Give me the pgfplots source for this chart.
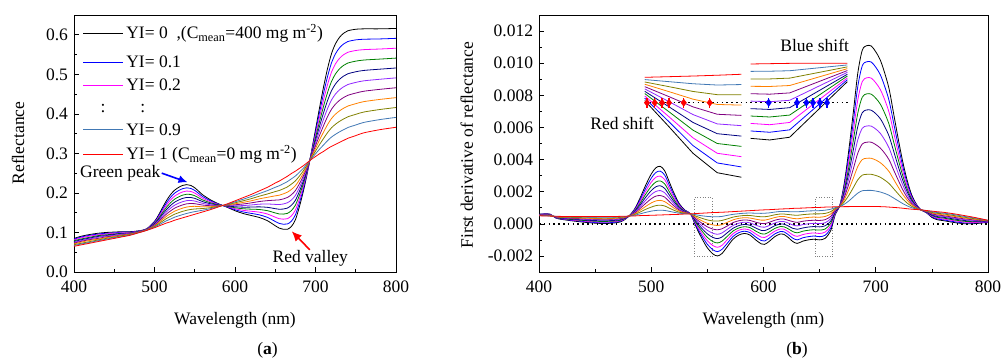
\documentclass[border=0pt]{standalone}
\usepackage{fontspec}
\setmainfont{Liberation Serif}
\usepackage{pgfplots}
\usepackage{pgfplotstable}
\pgfplotsset{compat=1.18}
\usetikzlibrary{arrows.meta}
\definecolor{cblue}{RGB}{0,0,255}
\definecolor{cmag}{RGB}{255,0,255}
\definecolor{cgreen}{RGB}{0,128,0}
\definecolor{cnavy}{RGB}{0,0,128}
\definecolor{cviolet}{RGB}{145,40,255}
\definecolor{cpurple}{RGB}{128,0,128}
\definecolor{corange}{RGB}{255,128,0}
\definecolor{colive}{RGB}{128,128,0}
\definecolor{csteel}{RGB}{65,120,180}
\definecolor{cred}{RGB}{255,0,0}
\newcommand{\fs}{\fontsize{17.5}{21}\selectfont}

\pgfplotstableread{
wl r0 r1 r2 r3 r4 r5 r6 r7 r8 r9 r10
400 0.085 0.083 0.081 0.079 0.077 0.075 0.073 0.071 0.069 0.067 0.065
410 0.091 0.089 0.087 0.084 0.082 0.080 0.078 0.076 0.073 0.071 0.069
420 0.095 0.093 0.091 0.088 0.086 0.084 0.082 0.080 0.077 0.075 0.073
430 0.098 0.096 0.094 0.092 0.090 0.088 0.085 0.083 0.081 0.079 0.077
440 0.100 0.098 0.096 0.094 0.092 0.091 0.089 0.087 0.085 0.083 0.081
450 0.101 0.099 0.098 0.096 0.095 0.093 0.091 0.090 0.088 0.087 0.085
460 0.102 0.101 0.099 0.098 0.097 0.096 0.094 0.093 0.092 0.090 0.089
470 0.102 0.101 0.100 0.099 0.098 0.098 0.097 0.096 0.095 0.094 0.093
480 0.1040 0.1035 0.1030 0.1025 0.1020 0.1015 0.1010 0.1005 0.1000 0.0995 0.0990
490 0.1090 0.1086 0.1082 0.1078 0.1074 0.1070 0.1066 0.1062 0.1058 0.1054 0.1050
500 0.1280 0.1264 0.1248 0.1232 0.1216 0.1200 0.1184 0.1168 0.1152 0.1136 0.1120
505 0.1440 0.1412 0.1384 0.1356 0.1328 0.1300 0.1272 0.1244 0.1216 0.1188 0.1160
510 0.1630 0.1587 0.1544 0.1501 0.1458 0.1415 0.1372 0.1329 0.1286 0.1243 0.1200
515 0.1810 0.1753 0.1696 0.1639 0.1582 0.1525 0.1468 0.1411 0.1354 0.1297 0.1240
520 0.1960 0.1891 0.1822 0.1753 0.1684 0.1615 0.1546 0.1477 0.1408 0.1339 0.1270
525 0.2070 0.1994 0.1918 0.1842 0.1766 0.1690 0.1614 0.1538 0.1462 0.1386 0.1310
530 0.2140 0.2060 0.1980 0.1900 0.1820 0.1740 0.1660 0.1580 0.1500 0.1420 0.1340
535 0.2190 0.2108 0.2026 0.1944 0.1862 0.1780 0.1698 0.1616 0.1534 0.1452 0.1370
540 0.2210 0.2129 0.2048 0.1967 0.1886 0.1805 0.1724 0.1643 0.1562 0.1481 0.1400
545 0.2190 0.2114 0.2038 0.1962 0.1886 0.1810 0.1734 0.1658 0.1582 0.1506 0.1430
550 0.2130 0.2063 0.1996 0.1929 0.1862 0.1795 0.1728 0.1661 0.1594 0.1527 0.1460
555 0.2040 0.1985 0.1930 0.1875 0.1820 0.1765 0.1710 0.1655 0.1600 0.1545 0.1490
560 0.1950 0.1907 0.1864 0.1821 0.1778 0.1735 0.1692 0.1649 0.1606 0.1563 0.1520
570 0.1820 0.1796 0.1772 0.1748 0.1724 0.1700 0.1676 0.1652 0.1628 0.1604 0.1580
580 0.1720 0.1713 0.1706 0.1699 0.1692 0.1685 0.1678 0.1671 0.1664 0.1657 0.1650
590 0.1640 0.1648 0.1656 0.1664 0.1672 0.1680 0.1688 0.1696 0.1704 0.1712 0.1720
600 0.1550 0.1575 0.1600 0.1625 0.1650 0.1675 0.1700 0.1725 0.1750 0.1775 0.1800
610 0.1480 0.1520 0.1560 0.1600 0.1640 0.1680 0.1720 0.1760 0.1800 0.1840 0.1880
620 0.1430 0.1483 0.1536 0.1589 0.1642 0.1695 0.1748 0.1801 0.1854 0.1907 0.1960
630 0.1380 0.1447 0.1514 0.1581 0.1648 0.1715 0.1782 0.1849 0.1916 0.1983 0.2050
640 0.1300 0.1384 0.1468 0.1552 0.1636 0.1720 0.1804 0.1888 0.1972 0.2056 0.2140
650 0.1170 0.1278 0.1386 0.1494 0.1602 0.1710 0.1818 0.1926 0.2034 0.2142 0.2250
655 0.1110 0.1229 0.1348 0.1467 0.1586 0.1705 0.1824 0.1943 0.2062 0.2181 0.2300
660 0.1080 0.1208 0.1336 0.1464 0.1592 0.1720 0.1848 0.1976 0.2104 0.2232 0.2360
665 0.1080 0.1214 0.1348 0.1482 0.1616 0.1750 0.1884 0.2018 0.2152 0.2286 0.2420
670 0.1150 0.1284 0.1418 0.1552 0.1686 0.1820 0.1954 0.2088 0.2222 0.2356 0.2490
675 0.1320 0.1443 0.1566 0.1689 0.1812 0.1935 0.2058 0.2181 0.2304 0.2427 0.2550
680 0.1650 0.1747 0.1844 0.1941 0.2038 0.2135 0.2232 0.2329 0.2426 0.2523 0.2620
685 0.2050 0.2114 0.2178 0.2242 0.2306 0.2370 0.2434 0.2498 0.2562 0.2626 0.2690
690 0.2520 0.2545 0.2570 0.2595 0.2620 0.2645 0.2670 0.2695 0.2720 0.2745 0.2770
695 0.3050 0.3030 0.3010 0.2990 0.2970 0.2950 0.2930 0.2910 0.2890 0.2870 0.2850
700 0.3600 0.3532 0.3464 0.3396 0.3328 0.3260 0.3192 0.3124 0.3056 0.2988 0.2920
705 0.4150 0.4034 0.3918 0.3802 0.3686 0.3570 0.3454 0.3338 0.3222 0.3106 0.2990
710 0.4680 0.4517 0.4354 0.4191 0.4028 0.3865 0.3702 0.3539 0.3376 0.3213 0.3050
715 0.5150 0.4947 0.4744 0.4541 0.4338 0.4135 0.3932 0.3729 0.3526 0.3323 0.3120
720 0.5530 0.5295 0.5060 0.4825 0.4590 0.4355 0.4120 0.3885 0.3650 0.3415 0.3180
725 0.5780 0.5525 0.5270 0.5015 0.4760 0.4505 0.4250 0.3995 0.3740 0.3485 0.3230
730 0.5940 0.5674 0.5408 0.5142 0.4876 0.4610 0.4344 0.4078 0.3812 0.3546 0.3280
735 0.6040 0.5769 0.5498 0.5227 0.4956 0.4685 0.4414 0.4143 0.3872 0.3601 0.3330
740 0.6100 0.5828 0.5556 0.5284 0.5012 0.4740 0.4468 0.4196 0.3924 0.3652 0.3380
750 0.6140 0.5871 0.5602 0.5333 0.5064 0.4795 0.4526 0.4257 0.3988 0.3719 0.3450
760 0.6150 0.5887 0.5624 0.5361 0.5098 0.4835 0.4572 0.4309 0.4046 0.3783 0.3520
780 0.6150 0.5895 0.5640 0.5385 0.5130 0.4875 0.4620 0.4365 0.4110 0.3855 0.3600
800 0.6160 0.5910 0.5660 0.5410 0.5160 0.4910 0.4660 0.4410 0.4160 0.3910 0.3660
}\tabR

\pgfplotstableread{
wl d0 d1 d2 d3 d4 d5 d6 d7 d8 d9 d10
400 0.00060 0.00059 0.00058 0.00057 0.00056 0.00055 0.00054 0.00053 0.00052 0.00051 0.00050
405 0.00062 0.00061 0.00059 0.00058 0.00057 0.00056 0.00054 0.00053 0.00052 0.00050 0.00049
410 0.00060 0.00059 0.00058 0.00056 0.00055 0.00054 0.00053 0.00052 0.00050 0.00049 0.00048
415 0.00036 0.00037 0.00038 0.00039 0.00040 0.00042 0.00043 0.00044 0.00045 0.00046 0.00047
420 0.00028 0.00030 0.00032 0.00033 0.00035 0.00037 0.00039 0.00041 0.00042 0.00044 0.00046
430 0.00018 0.00021 0.00023 0.00026 0.00029 0.00032 0.00034 0.00037 0.00040 0.00042 0.00045
440 0.00010 0.00014 0.00017 0.00021 0.00024 0.00028 0.00031 0.00035 0.00038 0.00042 0.00045
450 0.00004 0.00008 0.00012 0.00016 0.00020 0.00025 0.00029 0.00033 0.00037 0.00041 0.00045
460 0.00002 0.00006 0.00011 0.00015 0.00019 0.00024 0.00028 0.00032 0.00036 0.00041 0.00045
470 0.00008 0.00012 0.00016 0.00019 0.00023 0.00027 0.00031 0.00035 0.00038 0.00042 0.00046
475 0.00020 0.00023 0.00025 0.00028 0.00031 0.00034 0.00036 0.00039 0.00042 0.00044 0.00047
480 0.00047 0.00047 0.00047 0.00047 0.00047 0.00048 0.00048 0.00048 0.00048 0.00048 0.00048
485 0.00090 0.00086 0.00082 0.00078 0.00074 0.00070 0.00065 0.00061 0.00057 0.00053 0.00049
490 0.00160 0.00149 0.00138 0.00127 0.00116 0.00106 0.00095 0.00084 0.00073 0.00062 0.00051
495 0.00240 0.00221 0.00202 0.00184 0.00165 0.00146 0.00127 0.00108 0.00090 0.00071 0.00052
500 0.00310 0.00284 0.00259 0.00233 0.00207 0.00182 0.00156 0.00130 0.00104 0.00079 0.00053
504 0.00348 0.00319 0.00289 0.00260 0.00230 0.00201 0.00172 0.00142 0.00113 0.00083 0.00054
508 0.00358 0.00328 0.00297 0.00267 0.00237 0.00207 0.00176 0.00146 0.00116 0.00085 0.00055
512 0.00330 0.00303 0.00275 0.00248 0.00220 0.00193 0.00166 0.00138 0.00111 0.00083 0.00056
516 0.00262 0.00242 0.00221 0.00201 0.00180 0.00160 0.00139 0.00119 0.00098 0.00078 0.00057
520 0.00195 0.00181 0.00168 0.00154 0.00140 0.00127 0.00113 0.00099 0.00085 0.00072 0.00058
525 0.00125 0.00118 0.00112 0.00105 0.00099 0.00092 0.00085 0.00079 0.00072 0.00066 0.00059
530 0.00085 0.00083 0.00080 0.00078 0.00075 0.00073 0.00071 0.00068 0.00066 0.00063 0.00061
535 0.00062 0.00062 0.00062 0.00062 0.00062 0.00062 0.00062 0.00062 0.00062 0.00062 0.00062
540 -0.00020 -0.00012 -0.00003 0.00005 0.00014 0.00022 0.00030 0.00039 0.00047 0.00056 0.00064
545 -0.00090 -0.00074 -0.00059 -0.00043 -0.00028 -0.00012 0.00004 0.00019 0.00035 0.00050 0.00066
550 -0.00150 -0.00128 -0.00106 -0.00085 -0.00063 -0.00041 -0.00019 0.00003 0.00024 0.00046 0.00068
555 -0.00188 -0.00162 -0.00136 -0.00111 -0.00085 -0.00059 -0.00033 -0.00007 0.00018 0.00044 0.00070
559 -0.00200 -0.00173 -0.00146 -0.00119 -0.00092 -0.00065 -0.00037 -0.00010 0.00017 0.00044 0.00071
563 -0.00185 -0.00159 -0.00134 -0.00108 -0.00082 -0.00057 -0.00031 -0.00005 0.00021 0.00046 0.00072
568 -0.00140 -0.00119 -0.00097 -0.00076 -0.00054 -0.00033 -0.00012 0.00010 0.00031 0.00053 0.00074
573 -0.00095 -0.00078 -0.00061 -0.00044 -0.00027 -0.00010 0.00008 0.00025 0.00042 0.00059 0.00076
578 -0.00070 -0.00055 -0.00040 -0.00026 -0.00011 0.00004 0.00019 0.00034 0.00048 0.00063 0.00078
583 -0.00060 -0.00046 -0.00032 -0.00018 -0.00004 0.00010 0.00024 0.00038 0.00052 0.00066 0.00080
588 -0.00070 -0.00055 -0.00040 -0.00024 -0.00009 0.00006 0.00021 0.00036 0.00052 0.00067 0.00082
593 -0.00100 -0.00082 -0.00063 -0.00045 -0.00026 -0.00008 0.00010 0.00029 0.00047 0.00066 0.00084
598 -0.00125 -0.00104 -0.00083 -0.00062 -0.00041 -0.00020 0.00002 0.00023 0.00044 0.00065 0.00086
601 -0.00128 -0.00107 -0.00085 -0.00064 -0.00042 -0.00021 0.00001 0.00023 0.00044 0.00066 0.00087
605 -0.00110 -0.00090 -0.00070 -0.00051 -0.00031 -0.00011 0.00009 0.00029 0.00048 0.00068 0.00088
610 -0.00080 -0.00063 -0.00046 -0.00029 -0.00012 0.00005 0.00022 0.00039 0.00056 0.00073 0.00090
615 -0.00063 -0.00048 -0.00032 -0.00017 -0.00001 0.00015 0.00030 0.00046 0.00061 0.00077 0.00092
618 -0.00065 -0.00049 -0.00033 -0.00018 -0.00002 0.00014 0.00030 0.00046 0.00061 0.00077 0.00093
622 -0.00085 -0.00067 -0.00049 -0.00031 -0.00013 0.00005 0.00022 0.00040 0.00058 0.00076 0.00094
626 -0.00110 -0.00089 -0.00069 -0.00048 -0.00028 -0.00007 0.00014 0.00034 0.00055 0.00075 0.00096
630 -0.00122 -0.00100 -0.00078 -0.00056 -0.00034 -0.00013 0.00009 0.00031 0.00053 0.00075 0.00097
635 -0.00108 -0.00087 -0.00067 -0.00046 -0.00026 -0.00005 0.00016 0.00036 0.00057 0.00077 0.00098
640 -0.00100 -0.00080 -0.00060 -0.00040 -0.00020 0.00000 0.00020 0.00040 0.00060 0.00080 0.00100
645 -0.00096 -0.00076 -0.00057 -0.00037 -0.00017 0.00003 0.00022 0.00042 0.00062 0.00081 0.00101
650 -0.00100 -0.00080 -0.00060 -0.00039 -0.00019 0.00001 0.00021 0.00041 0.00062 0.00082 0.00102
655 -0.00090 -0.00071 -0.00051 -0.00032 -0.00012 0.00007 0.00026 0.00046 0.00065 0.00085 0.00104
660 -0.00040 -0.00026 -0.00011 0.00004 0.00018 0.00033 0.00047 0.00062 0.00076 0.00091 0.00105
664 0.00060 0.00065 0.00069 0.00074 0.00078 0.00083 0.00088 0.00092 0.00097 0.00101 0.00106
668 0.00115 0.00114 0.00113 0.00112 0.00111 0.00111 0.00110 0.00109 0.00108 0.00107 0.00106
672 0.00255 0.00240 0.00225 0.00211 0.00196 0.00181 0.00166 0.00151 0.00137 0.00122 0.00107
676 0.00459 0.00424 0.00389 0.00353 0.00318 0.00283 0.00248 0.00213 0.00177 0.00142 0.00107
680 0.00694 0.00635 0.00577 0.00518 0.00460 0.00401 0.00342 0.00284 0.00225 0.00167 0.00108
684 0.00938 0.00855 0.00772 0.00689 0.00606 0.00523 0.00440 0.00357 0.00274 0.00191 0.00108
688 0.01081 0.00984 0.00886 0.00789 0.00692 0.00595 0.00497 0.00400 0.00303 0.00206 0.00108
692 0.01109 0.01009 0.00909 0.00809 0.00709 0.00609 0.00508 0.00408 0.00308 0.00208 0.00108
696 0.01107 0.01007 0.00907 0.00807 0.00707 0.00608 0.00508 0.00408 0.00308 0.00208 0.00108
700 0.01071 0.00975 0.00878 0.00782 0.00686 0.00590 0.00493 0.00397 0.00301 0.00204 0.00108
704 0.01020 0.00929 0.00837 0.00746 0.00655 0.00564 0.00472 0.00381 0.00290 0.00198 0.00107
708 0.00938 0.00855 0.00772 0.00688 0.00605 0.00522 0.00439 0.00356 0.00272 0.00189 0.00106
712 0.00836 0.00763 0.00690 0.00616 0.00543 0.00470 0.00397 0.00324 0.00250 0.00177 0.00104
716 0.00683 0.00625 0.00567 0.00509 0.00451 0.00393 0.00334 0.00276 0.00218 0.00160 0.00102
720 0.00530 0.00487 0.00444 0.00401 0.00358 0.00315 0.00272 0.00229 0.00186 0.00143 0.00100
724 0.00388 0.00359 0.00330 0.00301 0.00272 0.00243 0.00213 0.00184 0.00155 0.00126 0.00097
728 0.00270 0.00252 0.00235 0.00217 0.00200 0.00182 0.00164 0.00147 0.00129 0.00112 0.00094
732 0.00180 0.00171 0.00162 0.00153 0.00144 0.00136 0.00127 0.00118 0.00109 0.00100 0.00091
736 0.00125 0.00121 0.00118 0.00114 0.00111 0.00107 0.00103 0.00100 0.00096 0.00093 0.00089
740 0.00088 0.00088 0.00088 0.00088 0.00088 0.00088 0.00087 0.00087 0.00087 0.00087 0.00087
745 0.00070 0.00071 0.00073 0.00074 0.00075 0.00077 0.00078 0.00079 0.00080 0.00082 0.00083
750 0.00040 0.00044 0.00048 0.00052 0.00056 0.00060 0.00063 0.00067 0.00071 0.00075 0.00079
755 0.00025 0.00030 0.00035 0.00040 0.00045 0.00050 0.00055 0.00060 0.00065 0.00070 0.00075
760 0.00020 0.00025 0.00030 0.00036 0.00041 0.00046 0.00051 0.00056 0.00062 0.00067 0.00072
770 0.00008 0.00013 0.00019 0.00024 0.00030 0.00035 0.00040 0.00046 0.00051 0.00057 0.00062
780 0.00000 0.00005 0.00010 0.00015 0.00020 0.00025 0.00030 0.00035 0.00040 0.00045 0.00050
790 0.00002 0.00006 0.00009 0.00013 0.00016 0.00020 0.00023 0.00027 0.00030 0.00034 0.00037
800 0.00010 0.00011 0.00012 0.00014 0.00015 0.00016 0.00017 0.00018 0.00020 0.00021 0.00022
}\tabD

% inset: red shift (magnified view of box 538-554 nm)
\pgfplotstableread{
x i0 i1 i2 i3 i4 i5 i6 i7 i8 i9 i10
494.2 0.00767 0.00782 0.00796 0.00811 0.00825 0.00840 0.00854 0.00869 0.00883 0.00898 0.00912
515.7 0.00605 0.00636 0.00667 0.00698 0.00729 0.00761 0.00792 0.00823 0.00854 0.00885 0.00916
537.2 0.00439 0.00487 0.00535 0.00583 0.00631 0.00680 0.00728 0.00776 0.00824 0.00872 0.00920
558.8 0.00318 0.00379 0.00439 0.00500 0.00561 0.00622 0.00682 0.00743 0.00804 0.00864 0.00925
580.3 0.00290 0.00354 0.00418 0.00482 0.00546 0.00611 0.00675 0.00739 0.00803 0.00867 0.00931
}\tabRI

% inset: blue shift (magnified view of box 646-662 nm)
\pgfplotstableread{
x i0 i1 i2 i3 i4 i5 i6 i7 i8 i9 i10
588.6 0.00532 0.00578 0.00625 0.00671 0.00717 0.00764 0.00810 0.00856 0.00902 0.00949 0.00995
605.5 0.00522 0.00570 0.00617 0.00665 0.00712 0.00760 0.00807 0.00855 0.00902 0.00950 0.00997
623.3 0.00539 0.00585 0.00631 0.00677 0.00723 0.00769 0.00815 0.00861 0.00907 0.00953 0.00999
674.7 0.00885 0.00897 0.00908 0.00920 0.00931 0.00943 0.00954 0.00966 0.00977 0.00989 0.01000
}\tabBI

\pgfplotsset{
  myaxis/.style={
    scale only axis, height=257pt,
    xmin=400, xmax=800,
    xtick={400,500,600,700,800}, minor xtick={450,550,650,750},
    tick align=inside, xtick pos=bottom, ytick pos=left,
    major tick length=5pt, minor tick length=3pt,
    every tick/.style={black, line width=0.6pt},
    axis line style={line width=0.8pt},
    tick label style={font=\fs, inner sep=1pt},
    label style={font=\fs},
    xticklabel={\pgfmathprintnumber[assume math mode=true]{\tick}},
    xticklabel style={yshift=-7.8pt},
    yticklabel style={xshift=-4.8pt},
    xlabel={Wavelength (nm)},
    xlabel style={at={(axis description cs:0.5,-0.187)}, anchor=center},
  },
  cv/.style={line width=0.8pt, smooth, tension=0.5},
  il/.style={line width=0.8pt},
}

\begin{document}
\begin{tikzpicture}[font=\fs]
% ---------------- panel (a) ----------------
\begin{axis}[myaxis, at={(0pt,0pt)}, anchor=south west, width=322pt,
  ymin=0, ymax=0.65,
  ytick={0,0.1,0.2,0.3,0.4,0.5,0.6}, minor ytick={0.05,0.15,0.25,0.35,0.45,0.55},
  yticklabel={\pgfmathprintnumber[fixed, fixed zerofill, precision=1, assume math mode=true]{\tick}},
  ylabel={Reflectance},
  ylabel style={at={(axis description cs:-0.174,0.502)}, anchor=center},
]
\addplot[cv, black]   table[x=wl, y=r0]  {\tabR};
\addplot[cv, cblue]   table[x=wl, y=r1]  {\tabR};
\addplot[cv, cmag]    table[x=wl, y=r2]  {\tabR};
\addplot[cv, cgreen]  table[x=wl, y=r3]  {\tabR};
\addplot[cv, cnavy]   table[x=wl, y=r4]  {\tabR};
\addplot[cv, cviolet] table[x=wl, y=r5]  {\tabR};
\addplot[cv, cpurple] table[x=wl, y=r6]  {\tabR};
\addplot[cv, corange] table[x=wl, y=r7]  {\tabR};
\addplot[cv, colive]  table[x=wl, y=r8]  {\tabR};
\addplot[cv, csteel]  table[x=wl, y=r9]  {\tabR};
\addplot[cv, cred]    table[x=wl, y=r10] {\tabR};
% legend (drawn by hand)
\draw[black, line width=0.8pt]  (axis description cs:0.028,0.929) -- (axis description cs:0.152,0.929);
\draw[cblue, line width=0.8pt]  (axis description cs:0.028,0.816) -- (axis description cs:0.152,0.816);
\draw[cmag, line width=0.8pt]   (axis description cs:0.028,0.728) -- (axis description cs:0.152,0.728);
\draw[csteel, line width=0.8pt] (axis description cs:0.028,0.553) -- (axis description cs:0.152,0.553);
\draw[cred, line width=0.8pt]   (axis description cs:0.028,0.459) -- (axis description cs:0.152,0.459);
\node[anchor=base west, inner sep=0pt, yshift=-5.5pt] at (axis description cs:0.162,0.929) {YI= 0\ \ ,(C\textsubscript{mean}=400 mg m\textsuperscript{-2})};
\node[anchor=base west, inner sep=0pt, yshift=-5.5pt] at (axis description cs:0.162,0.816) {YI= 0.1};
\node[anchor=base west, inner sep=0pt, yshift=-5.5pt] at (axis description cs:0.162,0.728) {YI= 0.2};
\node[anchor=base, inner sep=0pt, yshift=-5.5pt] at (axis description cs:0.09,0.641) {:};
\node[anchor=base, inner sep=0pt, yshift=-5.5pt] at (axis description cs:0.214,0.641) {:};
\node[anchor=base west, inner sep=0pt, yshift=-5.5pt] at (axis description cs:0.162,0.553) {YI= 0.9};
\node[anchor=base west, inner sep=0pt, yshift=-5.5pt] at (axis description cs:0.162,0.459) {YI= 1 (C\textsubscript{mean}=0 mg m\textsuperscript{-2})};
% annotations
\node[anchor=west, inner sep=0pt] at (axis cs:407.5,0.250) {Green peak};
\draw[cblue, line width=1.6pt, -{Latex[length=9pt,width=8pt]}] (axis cs:509,0.250) -- (axis cs:541,0.227);
\node[anchor=center, inner sep=0pt] at (axis cs:693.5,0.034) {Red valley};
\draw[cred, line width=1.6pt, -{Latex[length=10pt,width=9pt]}] (axis cs:693,0.056) -- (axis cs:670.5,0.103);
\end{axis}
\node[anchor=center] at (193.5pt,-78.7pt) {(\textbf{a})};

% ---------------- panel (b) ----------------
\begin{axis}[myaxis, at={(465pt,0pt)}, anchor=south west, width=449pt,
  ymin=-0.003, ymax=0.013,
  ytick={-0.002,0,0.002,0.004,0.006,0.008,0.010,0.012},
  minor ytick={-0.001,0.001,0.003,0.005,0.007,0.009,0.011},
  scaled y ticks=false,
  yticklabel={\pgfmathprintnumber[fixed, fixed zerofill, precision=3, assume math mode=true]{\tick}},
  ylabel={First derivative of reflectance},
  ylabel style={at={(axis description cs:-0.161,0.494)}, anchor=center},
]
\addplot[black, line width=1.4pt, dash pattern=on 1.6pt off 3.2pt] coordinates {(400,0) (800,0)};
\draw[gray, line width=1pt, dash pattern=on 1pt off 1.6pt] (axis cs:538.1,-0.00205) rectangle (axis cs:554.2,0.00163);
\draw[gray, line width=1pt, dash pattern=on 1pt off 1.6pt] (axis cs:646.4,-0.00205) rectangle (axis cs:661.9,0.00163);
\addplot[cv, black]   table[x=wl, y=d0]  {\tabD};
\addplot[cv, cblue]   table[x=wl, y=d1]  {\tabD};
\addplot[cv, cmag]    table[x=wl, y=d2]  {\tabD};
\addplot[cv, cgreen]  table[x=wl, y=d3]  {\tabD};
\addplot[cv, cnavy]   table[x=wl, y=d4]  {\tabD};
\addplot[cv, cviolet] table[x=wl, y=d5]  {\tabD};
\addplot[cv, cpurple] table[x=wl, y=d6]  {\tabD};
\addplot[cv, corange] table[x=wl, y=d7]  {\tabD};
\addplot[cv, colive]  table[x=wl, y=d8]  {\tabD};
\addplot[cv, csteel]  table[x=wl, y=d9]  {\tabD};
\addplot[cv, cred]    table[x=wl, y=d10] {\tabD};
% insets
\addplot[il, black]   table[x=x, y=i0]  {\tabRI};
\addplot[il, cblue]   table[x=x, y=i1]  {\tabRI};
\addplot[il, cmag]    table[x=x, y=i2]  {\tabRI};
\addplot[il, cgreen]  table[x=x, y=i3]  {\tabRI};
\addplot[il, cnavy]   table[x=x, y=i4]  {\tabRI};
\addplot[il, cviolet] table[x=x, y=i5]  {\tabRI};
\addplot[il, cpurple] table[x=x, y=i6]  {\tabRI};
\addplot[il, corange] table[x=x, y=i7]  {\tabRI};
\addplot[il, colive]  table[x=x, y=i8]  {\tabRI};
\addplot[il, csteel]  table[x=x, y=i9]  {\tabRI};
\addplot[il, cred]    table[x=x, y=i10] {\tabRI};
\addplot[il, black]   table[x=x, y=i0]  {\tabBI};
\addplot[il, cblue]   table[x=x, y=i1]  {\tabBI};
\addplot[il, cmag]    table[x=x, y=i2]  {\tabBI};
\addplot[il, cgreen]  table[x=x, y=i3]  {\tabBI};
\addplot[il, cnavy]   table[x=x, y=i4]  {\tabBI};
\addplot[il, cviolet] table[x=x, y=i5]  {\tabBI};
\addplot[il, cpurple] table[x=x, y=i6]  {\tabBI};
\addplot[il, corange] table[x=x, y=i7]  {\tabBI};
\addplot[il, colive]  table[x=x, y=i8]  {\tabBI};
\addplot[il, csteel]  table[x=x, y=i9]  {\tabBI};
\addplot[il, cred]    table[x=x, y=i10] {\tabBI};
\addplot[black, line width=1.4pt, dash pattern=on 1.6pt off 3.2pt] coordinates {(494.2,0.00754) (677,0.00754)};
\addplot[only marks, cred, mark=diamond*, mark size=3.6pt,
  error bars/.cd, y dir=both, y fixed=0.00030, error mark=none, error bar style={cred, line width=1.2pt}]
  coordinates {(496.2,0.00754) (503.1,0.00754) (509.6,0.00754) (515.8,0.00754) (528.9,0.00754) (552.1,0.00754)};
\addplot[only marks, cblue, mark=diamond*, mark size=3.6pt,
  error bars/.cd, y dir=both, y fixed=0.00030, error mark=none, error bar style={cblue, line width=1.2pt}]
  coordinates {(604.6,0.00754) (629.8,0.00754) (638.2,0.00754) (644.1,0.00754) (650.3,0.00754) (656.6,0.00754)};
\node[anchor=center, inner sep=0pt] at (axis cs:474.1,0.00628) {Red shift};
\node[anchor=center, inner sep=0pt] at (axis cs:645.6,0.01113) {Blue shift};
\end{axis}
\node[anchor=center] at (723pt,-78.7pt) {(\textbf{b})};
\pgfresetboundingbox
\path[use as bounding box] (-74pt,-86pt) rectangle (929pt,272pt);
\end{tikzpicture}
\end{document}
